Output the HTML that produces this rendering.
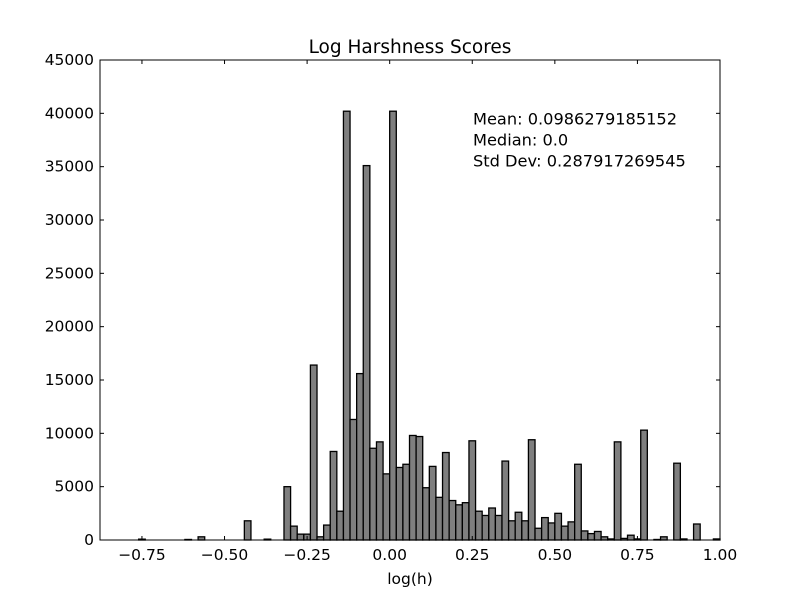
<!DOCTYPE html>
<html><head><meta charset="utf-8"><style>
body{margin:0;background:#fff}
svg{display:block;font-family:"DejaVu Sans","Liberation Sans",sans-serif}
</style></head><body>
<svg id="chart" width="800" height="600" xmlns="http://www.w3.org/2000/svg">
<rect width="800" height="600" fill="#fff"/>
<text x="410" y="53" font-size="18.5" text-anchor="middle">Log Harshness Scores</text>
<g id="bars"></g>
<g id="axes"></g>
<text x="410" y="584" font-size="15.5" text-anchor="middle">log(h)</text>
<g font-size="16.2">
<text x="473" y="124.5">Mean: 0.0986279185152</text>
<text x="473" y="145.5">Median: 0.0</text>
<text x="473" y="166.5">Std Dev: 0.287917269545</text>
</g>
</svg>
<script>
const binEdges = [-0.76,-0.62,-0.58,-0.44,-0.38,-0.32,-0.30,-0.28,-0.26,-0.24,-0.22,-0.20,-0.18,-0.16,-0.14,-0.12,-0.10,-0.08,-0.06,-0.04,-0.02,0.00,0.02,0.04,0.06,0.08,0.10,0.12,0.14,0.16,0.18,0.20,0.22,0.24,0.26,0.28,0.30,0.32,0.34,0.36,0.38,0.40,0.42,0.44,0.46,0.48,0.50,0.52,0.54,0.56,0.58,0.60,0.62,0.64,0.66,0.68,0.70,0.72,0.74,0.76,0.80,0.82,0.86,0.88,0.92,0.98];
const counts = [80,50,300,1800,80,5000,1300,550,550,16400,300,1400,8300,2700,40200,11300,15600,35100,8600,9200,6200,40200,6800,7100,9800,9700,4900,6900,4000,8200,3700,3300,3500,9300,2700,2300,3000,2300,7400,1800,2600,1800,9400,1100,2100,1600,2500,1300,1700,7100,850,600,800,300,100,9200,150,450,100,10300,50,300,7200,100,1500,100];
const binWidth = 0.02;
const xTicks = [-0.75,-0.50,-0.25,0.00,0.25,0.50,0.75,1.00];
const xTickLabels = ["\u22120.75","\u22120.50","\u22120.25","0.00","0.25","0.50","0.75","1.00"];
const yTicks = [0,5000,10000,15000,20000,25000,30000,35000,40000,45000];

const L=100,R=720,T=60,B=540,XMIN=-0.877,XMAX=1.0,YMAX=45000;
const xs=v=>L+(v-XMIN)/(XMAX-XMIN)*(R-L);
const ys=v=>B-v/YMAX*(B-T);
const NS="http://www.w3.org/2000/svg";
const bars=document.getElementById('bars');
binEdges.forEach((e,i)=>{
  const r=document.createElementNS(NS,'rect');
  const x0=xs(e),x1=xs(e+binWidth),y=ys(counts[i]);
  r.setAttribute('x',x0);r.setAttribute('y',y);
  r.setAttribute('width',x1-x0);r.setAttribute('height',B-y);
  r.setAttribute('fill','#7f7f7f');r.setAttribute('stroke','#000');r.setAttribute('stroke-width','1.3');
  
  
  bars.appendChild(r);
});
const ax=document.getElementById('axes');
function el(tag,attrs){const n=document.createElementNS(NS,tag);for(const k in attrs)n.setAttribute(k,attrs[k]);ax.appendChild(n);return n;}
const frame=el('rect',{x:L,y:T,width:R-L,height:B-T,fill:'none',stroke:'#000','stroke-width':1});


xTicks.forEach((t,i)=>{
  const x=xs(t);
  const a=el('line',{x1:x,x2:x,y1:B,y2:B-4,stroke:'#000'});
  
  
  const b=el('line',{x1:x,x2:x,y1:T,y2:T+4,stroke:'#000'});
  
  
  const tx=el('text',{x:x,y:B+20,'font-size':15.5,'text-anchor':'middle'});
  tx.textContent=xTickLabels[i];
  
  
});
yTicks.forEach(t=>{
  const y=ys(t);
  const a=el('line',{x1:L,x2:L+4,y1:y,y2:y,stroke:'#000'});
  
  
  const b=el('line',{x1:R,x2:R-4,y1:y,y2:y,stroke:'#000'});
  
  
  const tx=el('text',{x:L-6,y:y+5,'font-size':15.5,'text-anchor':'end'});
  tx.textContent=String(t);
  
  
});
</script>
</body></html>
